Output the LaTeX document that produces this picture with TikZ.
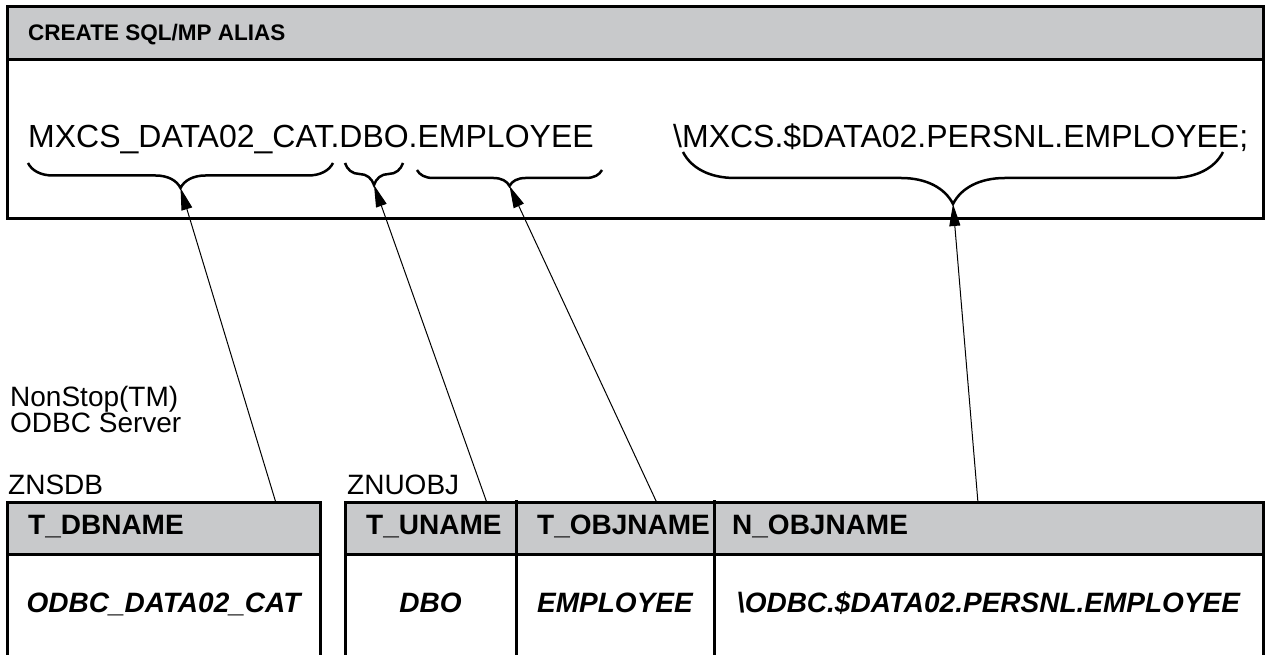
\documentclass[tikz,border=0pt]{standalone}
\usepackage{fontspec}
\setmainfont{Liberation Sans}
\usetikzlibrary{arrows.meta,decorations.pathreplacing,positioning}

\definecolor{hdrgray}{RGB}{200,201,203}

\begin{document}
\begin{tikzpicture}[x=1pt,y=1pt,
    frame/.style={line width=3pt},
    hdr/.style={fill=hdrgray},
    txt/.style={inner sep=0pt,anchor=base west,font=\fontsize{28}{28}\selectfont},
    colname/.style={txt,font=\fontsize{28}{28}\selectfont\bfseries},
    colval/.style={inner sep=0pt,anchor=base,font=\fontsize{28}{28}\selectfont\bfseries\itshape},
    sqlname/.style={inner sep=0pt,anchor=base west,font=\fontsize{32}{32}\selectfont},
    curly/.style={decorate,decoration={brace,mirror,amplitude=#1},line width=2.5pt},
    ptr/.style={-{Triangle[length=22pt,width=11pt]},line width=1pt}]
  \useasboundingbox (0,0) rectangle (1269,655);

  % alias statement
  \fill[hdr] (7,595) rectangle (1263,648);
  \draw[frame] (7,436) rectangle (1263,648);
  \draw[frame] (7,595) -- (1263,595);
  \node[inner sep=0pt,anchor=base west,font=\fontsize{22.5}{22.5}\selectfont\bfseries] (stmt) at (28,614) {CREATE SQL/MP ALIAS};
  \node[sqlname] (alias) at (28,507) {MXCS\_DATA02\_CAT.DBO.EMPLOYEE};
  \node[sqlname] (target) at (673,507) {\textbackslash MXCS.\$DATA02.PERSNL.EMPLOYEE;};

  \draw[curly=25] (28,492) -- coordinate[midway,yshift=-25pt] (catpt) (333,492);
  \draw[curly=22] (345,492) -- coordinate[midway,yshift=-22pt] (schpt) (403,492);
  \draw[curly=16] (417,485) -- coordinate[midway,yshift=-16pt] (objpt) (602,485);
  \draw[curly=52] (683,503) -- coordinate[midway,yshift=-52pt] (nskpt) (1223,503);

  \node[txt] (nonstop) at (10,248) {NonStop(TM)};
  \node[txt] (odbcsrv) at ([yshift=-26pt]nonstop.base west) {ODBC Server};

  % ZNSDB
  \node[txt] (znsdb) at (8,160) {ZNSDB};
  \fill[hdr] (7,100) rectangle (320,152);
  \draw[frame] (7,0) -- (7,152) -- (320,152) -- (320,0) (7,100) -- (320,100);
  \node[colname] (dbname) at (28,120) {T\_DBNAME};
  \node[colval] (dbval) at (163.5,42) {ODBC\_DATA02\_CAT};

  % ZNUOBJ
  \node[txt] (znuobj) at (347,160) {ZNUOBJ};
  \fill[hdr] (345,100) rectangle (1263,152);
  \draw[frame] (345,0) -- (345,152) -- (1263,152) -- (1263,0) (345,100) -- (1263,100);
  \draw[frame] (516,0) -- (516,155) (714,0) -- (714,155);
  \node[colname] (uname) at (366,120) {T\_UNAME};
  \node[colname] (objname) at (537,120) {T\_OBJNAME};
  \node[colname] (nobjname) at (732,120) {N\_OBJNAME};
  \node[colval] (unval) at (430.5,42) {DBO};
  \node[colval] (objval) at (615,42) {EMPLOYEE};
  \node[colval] (nobjval) at (988.5,42) {\textbackslash ODBC.\$DATA02.PERSNL.EMPLOYEE};

  \coordinate (dbtop) at (276,152);
  \coordinate (untop) at (487,152);
  \coordinate (objtop) at (657,152);
  \coordinate (nobjtop) at (978,152);
  \draw[ptr] (dbtop) -- (catpt);
  \draw[ptr] (untop) -- (schpt);
  \draw[ptr] (objtop) -- (objpt);
  \draw[ptr] (nobjtop) -- (nskpt);
\end{tikzpicture}
\end{document}
